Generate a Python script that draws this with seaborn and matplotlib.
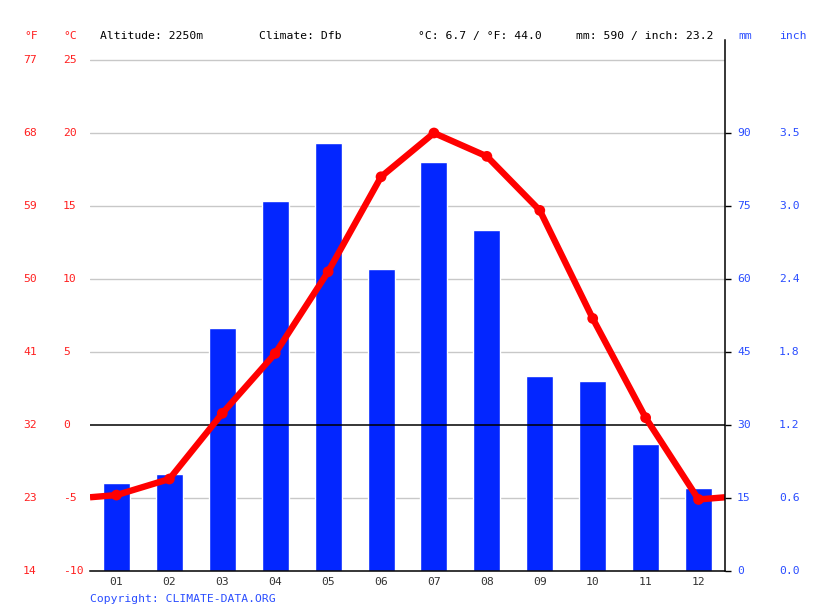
import matplotlib
matplotlib.use("Agg")
import matplotlib.pyplot as plt
import matplotlib.transforms as mtrans
import numpy as np
import pandas as pd
import seaborn as sns

# ---- data ----
months = ["01", "02", "03", "04", "05", "06", "07", "08", "09", "10", "11", "12"]
precip_mm = [18, 20, 50, 76, 88, 62, 84, 70, 40, 39, 26, 17]
temp_c = [-4.8, -3.7, 0.8, 4.9, 10.5, 17.0, 20.0, 18.4, 14.7, 7.3, 0.5, -5.1]
c_ticks = [-10, -5, 0, 5, 10, 15, 20, 25]
f_labels = ["14", "23", "32", "41", "50", "59", "68", "77"]
mm_ticks = [0, 15, 30, 45, 60, 75, 90]
inch_labels = ["0.0", "0.6", "1.2", "1.8", "2.4", "3.0", "3.5"]
header_altitude = "Altitude: 2250m"
header_climate = "Climate: Dfb"
header_temp = "°C: 6.7 / °F: 44.0"
header_precip = "mm: 590 / inch: 23.2"
copyright_text = "Copyright: CLIMATE-DATA.ORG"

# ---- styling ----
sns.set_theme(style="white")
plt.rcParams['font.family'] = ['DejaVu Sans Mono', 'DejaVu Sans']
FS = 8.2
RED = "#ff2020"
BLUE_TXT = "#2a4dff"
BAR = "#0326ff"

W, H = 815, 611
fig = plt.figure(figsize=(W / 100, H / 100), dpi=100)
L, R, B, T = 90, 725, 571, 40
ax = fig.add_axes([L / W, (H - B) / H, (R - L) / W, (B - T) / H])

# scales: temp -10..25 maps to px 571..60 ; mm 0..90 maps to 571..133
px_per_c = (571 - 60) / 35.0
px_per_mm = (571 - 133) / 90.0
mm_top = (B - T) / px_per_mm
c_top = -10 + (B - T) / px_per_c


def c_to_mm(c):
    return (c + 10) * px_per_c / px_per_mm


# bars (precip) on the base axis
df = pd.DataFrame({"month": months, "mm": precip_mm})
sns.barplot(data=df, x="month", y="mm", color=BAR, saturation=1, width=0.51,
            ax=ax, zorder=2)
ax.set_ylim(0, mm_top)
ax.set_xlim(-0.5, 11.5)

# grid lines at temperature ticks
for c in c_ticks[1:]:
    if c == 0:
        ax.axhline(c_to_mm(c), color="black", lw=1.1, zorder=3)
    else:
        ax.axhline(c_to_mm(c), color="#c8c8c8", lw=1.0, zorder=1)

# temperature line on twin axis
ax2 = ax.twinx()
edge = (temp_c[0] + temp_c[-1]) / 2
xs = [-0.5] + list(range(len(months))) + [11.5]
ys = [edge] + temp_c + [edge]
sns.lineplot(x=xs, y=ys, ax=ax2, color="#ff0000", lw=4.6, sort=False,
             solid_joinstyle="round", solid_capstyle="butt")
sns.scatterplot(x=list(range(len(months))), y=temp_c, ax=ax2, color="#ff0000",
                s=60, edgecolor="none", zorder=5)
ax2.set_ylim(-10, c_top)
ax2.set_xlim(-0.5, 11.5)

# axes cosmetics
for s in ax.spines.values():
    s.set_visible(False)
for name, s in ax2.spines.items():
    if name in ("right", "bottom"):
        s.set_visible(True)
        s.set_color("black")
        s.set_linewidth(1.1)
    else:
        s.set_visible(False)

ax.set_xlabel("")
ax.set_ylabel("")
ax2.set_ylabel("")
ax2.set_xlabel("")

ax.set_xticks(np.arange(-0.5, 12, 1))
ax.set_xticklabels([""] * 13)
ax.set_xticks(range(len(months)), minor=True)
ax.set_xticklabels(months, minor=True, fontsize=FS, color="#333333")
ax.tick_params(axis="x", which="major", bottom=True, length=5, width=1,
               color="black", direction="out")
ax.tick_params(axis="x", which="minor", bottom=True, length=0, pad=4)
ax.set_yticks([])
ax2.set_yticks(c_ticks[:-1])
ax2.set_yticklabels([])
ax2.tick_params(axis="y", right=True, length=4, width=1, color="black",
                direction="out")
ax2.set_xticks([])

# left labels (°F and °C)
trans_l = mtrans.blended_transform_factory(fig.transFigure, ax2.transData)
for c, f in zip(c_ticks, f_labels):
    fig.text(23 / W, 0, f, transform=trans_l, ha="left", va="center",
             color=RED, fontsize=FS) if False else None
    ax2.text(23 / W, c, f, transform=trans_l, ha="left", va="center",
             color=RED, fontsize=FS)
    ax2.text(63 / W, c, str(c), transform=trans_l, ha="left", va="center",
             color=RED, fontsize=FS)

# right labels (mm and inch)
trans_r = mtrans.blended_transform_factory(fig.transFigure, ax.transData)
for m, i in zip(mm_ticks, inch_labels):
    ax.text(737 / W, m, str(m), transform=trans_r, ha="left", va="center",
            color=BLUE_TXT, fontsize=FS)
    ax.text(779 / W, m, i, transform=trans_r, ha="left", va="center",
            color=BLUE_TXT, fontsize=FS)

# header
hy = 1 - 36 / H
fig.text(24 / W, hy, "°F", color=RED, fontsize=FS, ha="left", va="center")
fig.text(63 / W, hy, "°C", color=RED, fontsize=FS, ha="left", va="center")
fig.text(100 / W, hy, header_altitude, color="black", fontsize=FS, ha="left", va="center")
fig.text(259 / W, hy, header_climate, color="black", fontsize=FS, ha="left", va="center")
fig.text(418 / W, hy, header_temp, color="black", fontsize=FS, ha="left", va="center")
fig.text(576 / W, hy, header_precip, color="black", fontsize=FS, ha="left", va="center")
fig.text(738 / W, hy, "mm", color=BLUE_TXT, fontsize=FS, ha="left", va="center")
fig.text(779 / W, hy, "inch", color=BLUE_TXT, fontsize=FS, ha="left", va="center")

fig.text(90 / W, 1 - 599 / H, copyright_text, color=BLUE_TXT, fontsize=FS,
         ha="left", va="center")

fig.savefig("out.png", dpi=100)
